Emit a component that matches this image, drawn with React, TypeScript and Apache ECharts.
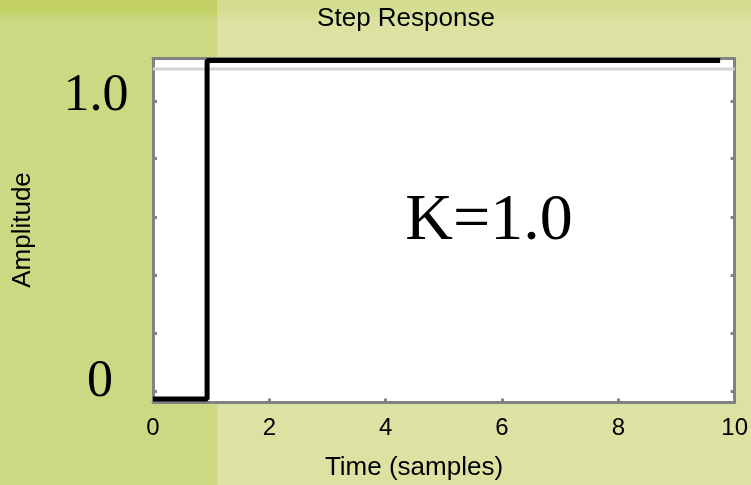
import React, { useEffect, useRef } from "react";
import * as echarts from "echarts";

// Unit step response of a pure gain K, sampled in time
const sampleTimes = [0, 0.93, 9.75];
const amplitudes = [0, 1.0, 1.0];
const gain = 1.0;

// Light reference level drawn just under the upper frame
const referenceLevel = 0.975;

// Axis ticks
const timeTicks = [0, 2, 4, 6, 8, 10];
const amplitudeTickMarks = [0.022, 0.194, 0.366, 0.538, 0.71, 0.881];
const amplitudeLabels = ["0", "1.0"];

const SANS = '"Liberation Sans", Arial, sans-serif';
const SERIF = '"Liberation Serif", "Times New Roman", serif';
const FRAME = "#828282";

export default function App() {
  const ref = useRef<HTMLDivElement>(null);

  useEffect(() => {
    if (!ref.current) return;
    const chart = echarts.init(ref.current, undefined, { renderer: "svg" });

    const frameLine = { show: true, onZero: false, lineStyle: { color: FRAME, width: 3 } };
    const innerTick = { show: true, inside: true, length: 4, lineStyle: { color: FRAME, width: 3 } };

    const xAxisBase = {
      type: "value" as const,
      min: timeTicks[0],
      max: timeTicks[timeTicks.length - 1],
      interval: timeTicks[1] - timeTicks[0],
      axisLine: frameLine,
      axisTick: innerTick,
      splitLine: { show: false },
    };
    const yAxisBase = {
      type: "value" as const,
      min: -0.0103,
      max: 1.0059,
      axisLine: frameLine,
      axisTick: { ...innerTick, customValues: amplitudeTickMarks },
      axisLabel: { show: false },
      splitLine: { show: false },
    };

    chart.setOption({
      animation: false,
      graphic: [
        {
          type: "rect",
          z: -100,
          shape: { x: 0, y: 0, width: 217, height: 485 },
          style: {
            fill: new echarts.graphic.LinearGradient(0, 0, 0, 1, [
              { offset: 0, color: "#c1cf62" },
              { offset: 0.026, color: "#c4d26b" },
              { offset: 0.04, color: "#cdd883" },
              { offset: 1, color: "#cdd883" },
            ]),
          },
        },
        {
          type: "rect",
          z: -100,
          shape: { x: 217, y: 0, width: 534, height: 485 },
          style: {
            fill: new echarts.graphic.LinearGradient(0, 0, 0, 1, [
              { offset: 0, color: "#d2dc8c" },
              { offset: 0.026, color: "#d5de94" },
              { offset: 0.045, color: "#dce3a2" },
              { offset: 1, color: "#dce3a2" },
            ]),
          },
        },
        {
          type: "text",
          x: 406,
          y: 17,
          style: { text: "Step Response", font: `26px ${SANS}`, fill: "#000", align: "center", verticalAlign: "middle" },
        },
        {
          type: "text",
          x: 21,
          y: 230,
          rotation: Math.PI / 2,
          style: { text: "Amplitude", font: `26px ${SANS}`, fill: "#000", align: "center", verticalAlign: "middle" },
        },
        {
          type: "text",
          x: 414,
          y: 466,
          style: { text: "Time (samples)", font: `26px ${SANS}`, fill: "#000", align: "center", verticalAlign: "middle" },
        },
        {
          type: "text",
          x: 96,
          y: 92,
          style: { text: amplitudeLabels[1], font: `52px ${SERIF}`, fill: "#000", align: "center", verticalAlign: "middle" },
        },
        {
          type: "text",
          x: 100,
          y: 378,
          style: { text: amplitudeLabels[0], font: `52px ${SERIF}`, fill: "#000", align: "center", verticalAlign: "middle" },
        },
        {
          type: "text",
          x: 489,
          y: 216,
          z: 100,
          style: { text: `K=${gain.toFixed(1)}`, font: `66px ${SERIF}`, fill: "#000", align: "center", verticalAlign: "middle" },
        },
      ],
      grid: {
        left: 153,
        right: 15,
        top: 58.5,
        bottom: 82.5,
        show: true,
        backgroundColor: "#ffffff",
        borderWidth: 0,
      },
      xAxis: [
        {
          ...xAxisBase,
          position: "bottom",
          axisLabel: { color: "#000", fontFamily: SANS, fontSize: 24, margin: 12 },
        },
        { ...xAxisBase, position: "top", axisLabel: { show: false } },
      ],
      yAxis: [
        { ...yAxisBase, position: "left" },
        { ...yAxisBase, position: "right" },
      ],
      series: [
        {
          type: "line",
          xAxisIndex: 0,
          yAxisIndex: 0,
          data: [
            [timeTicks[0], referenceLevel],
            [timeTicks[timeTicks.length - 1], referenceLevel],
          ],
          showSymbol: false,
          silent: true,
          lineStyle: { color: "#d4d4d4", width: 3 },
          z: 3,
        },
        {
          type: "line",
          xAxisIndex: 0,
          yAxisIndex: 0,
          step: "end",
          clip: false,
          data: sampleTimes.map((t, i) => [t, amplitudes[i]]),
          showSymbol: false,
          lineStyle: { color: "#000000", width: 5, cap: "butt" },
          z: 5,
        },
      ],
    });

    return () => chart.dispose();
  }, []);

  return (
    <div
      ref={ref}
      style={{ position: "fixed", left: 0, top: 0, width: 751, height: 485 }}
    />
  );
}
